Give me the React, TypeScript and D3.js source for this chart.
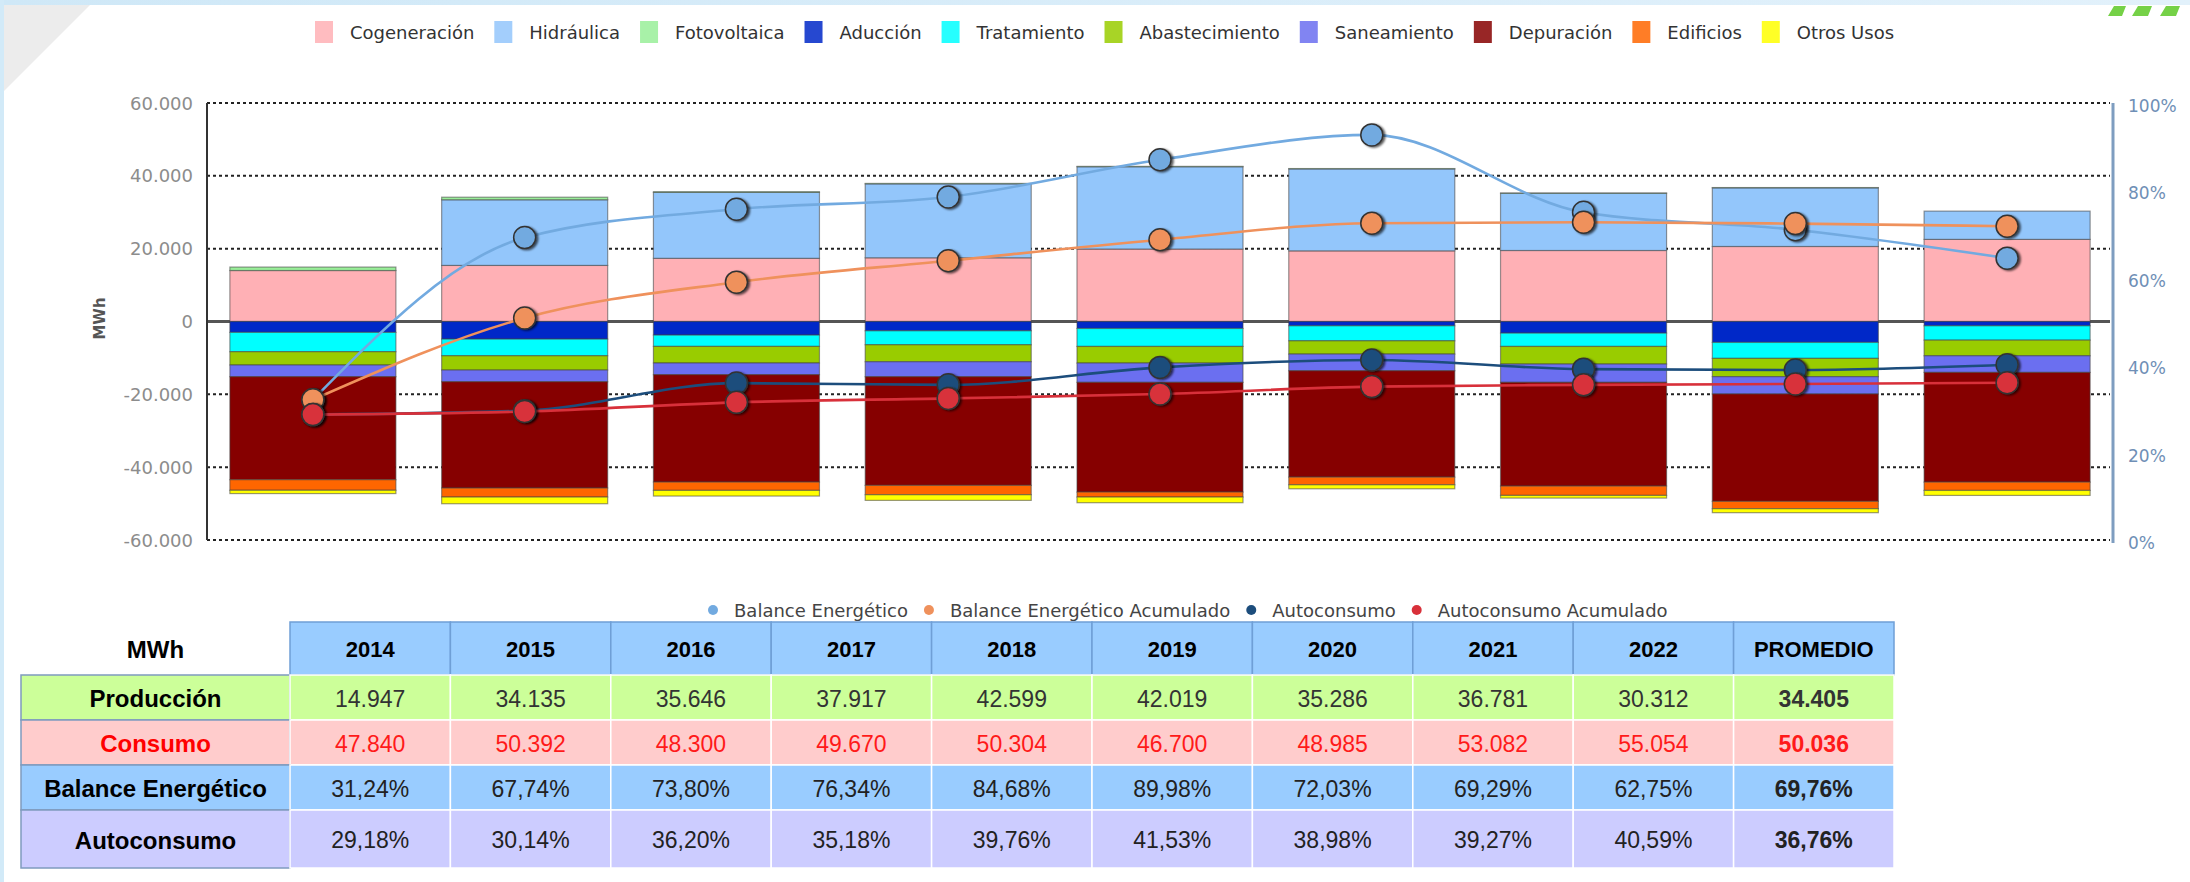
import React from 'react';
import * as d3 from 'd3';

// ---------- DATA ----------
const years = ['2014', '2015', '2016', '2017', '2018', '2019', '2020', '2021', '2022'];

// Production (MWh, positive stack)
const cogeneracion = [14000, 15400, 17350, 17500, 19900, 19400, 19500, 20600, 22550];
const hidraulica = [0, 18035, 18100, 20300, 22600, 22500, 15700, 16100, 7760];
const fotovoltaica = [950, 700, 200, 120, 100, 100, 90, 80, 0];

// Consumption (MWh, negative stack)
const aduccion = [3000, 4840, 3740, 2560, 1920, 1190, 3200, 5750, 1190];
const tratamiento = [5300, 4570, 3100, 3830, 4930, 4110, 3650, 4380, 3930];
const abastecimiento = [3650, 3930, 4560, 4660, 4560, 3650, 4840, 5020, 4290];
const saneamiento = [3200, 3200, 3200, 4110, 5300, 4570, 5020, 4750, 4570];
const depuracion = [28300, 29200, 29500, 29850, 30130, 29220, 28490, 29490, 30130];
const edificios = [2900, 2470, 2280, 2560, 1370, 2100, 2560, 2010, 2280];
const otrosUsos = [900, 1830, 1550, 1550, 1550, 1100, 730, 1100, 1370];

// Lines (%, right axis)
const balanceEnergetico = [32.1, 69.2, 75.7, 78.5, 87.0, 92.7, 75.0, 71.0, 64.5];
const balanceAcumulado = [32.1, 50.8, 59.0, 63.9, 68.7, 72.5, 72.7, 72.4, 71.8];
const autoconsumo = [28.7, 29.6, 35.9, 35.5, 39.5, 41.2, 39.1, 38.9, 40.1];
const autoconsumoAcumulado = [28.7, 29.4, 31.5, 32.4, 33.4, 35.1, 35.5, 35.7, 36.0];

const leftTicks = [-60000, -40000, -20000, 0, 20000, 40000, 60000];
const rightTicks = [0, 20, 40, 60, 80, 100];

// Table
const tableHeaders = ['2014', '2015', '2016', '2017', '2018', '2019', '2020', '2021', '2022', 'PROMEDIO'];
const tProduccion = [14947, 34135, 35646, 37917, 42599, 42019, 35286, 36781, 30312, 34405];
const tConsumo = [47840, 50392, 48300, 49670, 50304, 46700, 48985, 53082, 55054, 50036];
const tBalance = [31.24, 67.74, 73.80, 76.34, 84.68, 89.98, 72.03, 69.29, 62.75, 69.76];
const tAutoconsumo = [29.18, 30.14, 36.20, 35.18, 39.76, 41.53, 38.98, 39.27, 40.59, 36.76];

// ---------- STYLE ----------
const posKeys = ['Cogeneración', 'Hidráulica', 'Fotovoltaica'];
const negKeys = ['Aducción', 'Tratamiento', 'Abastecimiento', 'Saneamiento', 'Depuración', 'Edificios', 'Otros Usos'];
const barColors: Record<string, string> = {
  'Cogeneración': '#ffb0b5',
  'Hidráulica': '#93c6fb',
  'Fotovoltaica': '#99ee99',
  'Aducción': '#0028c8',
  'Tratamiento': '#00ffff',
  'Abastecimiento': '#99cc00',
  'Saneamiento': '#6b6ff0',
  'Depuración': '#860000',
  'Edificios': '#ff6600',
  'Otros Usos': '#ffff00',
};
const lineSeries = [
  { name: 'Balance Energético', values: balanceEnergetico, color: '#72aae0' },
  { name: 'Balance Energético Acumulado', values: balanceAcumulado, color: '#ef915c' },
  { name: 'Autoconsumo', values: autoconsumo, color: '#1c4d7c' },
  { name: 'Autoconsumo Acumulado', values: autoconsumoAcumulado, color: '#d8303a' },
];

const W = 2190;
const H = 882;
const P = { left: 207, right: 2113, top: 103, bottom: 540 };

const loc = d3.formatLocale({ decimal: ',', thousands: '.', grouping: [3], currency: ['', ''], minus: '-' });
const fmtInt = loc.format(',d');
const fmtPct = (v: number) => loc.format(',.2f')(v) + '%';

function measure(text: string, font: string): number {
  const c = document.createElement('canvas').getContext('2d');
  if (!c) return text.length * 9;
  c.font = font;
  return c.measureText(text).width;
}

export default function App() {
  const x = d3.scaleBand<string>().domain(years).range([P.left, P.right]).paddingInner(0.216).paddingOuter(0.108);
  const y = d3.scaleLinear().domain([-60000, 60000]).range([P.bottom, P.top]);
  const yP = d3.scaleLinear().domain([0, 100]).range([P.bottom, P.top]);
  const cx = (i: number) => (x(years[i]) as number) + x.bandwidth() / 2;

  const allKeys = [...posKeys, ...negKeys];
  const posData = [cogeneracion, hidraulica, fotovoltaica];
  const negData = [aduccion, tratamiento, abastecimiento, saneamiento, depuracion, edificios, otrosUsos];
  const rows = years.map((yr, i) => {
    const r: Record<string, number> = {};
    posKeys.forEach((k, j) => (r[k] = posData[j][i]));
    negKeys.forEach((k, j) => (r[k] = -negData[j][i]));
    return r;
  });
  const stacked = d3.stack<Record<string, number>>().keys(allKeys).offset(d3.stackOffsetDiverging)(rows);

  const line = d3
    .line<number>()
    .x((_, i) => cx(i))
    .y((d) => yP(d))
    .curve(d3.curveMonotoneX);

  // top legend layout
  const legFont = '18px "DejaVu Sans"';
  let lx = 315;
  const topLegend = allKeys.map((k) => {
    const w = measure(k, legFont);
    const item = { k, x: lx };
    lx += 35 + w + 20;
    return item;
  });

  // bottom legend layout
  const bFont = '18px "DejaVu Sans"';
  let bx = 713;
  const botLegend = lineSeries.map((s) => {
    const w = measure(s.name, bFont);
    const item = { ...s, x: bx };
    bx += 21 + w + 21;
    return item;
  });

  // table layout
  const tLeft = 21;
  const tLabelRight = 290;
  const tRight = 1894;
  const colX = d3.scaleBand<number>().domain(d3.range(tableHeaders.length)).range([tLabelRight, tRight]);
  const rowEdges = [622, 675, 720, 765, 810, 868];
  const tableRows = [
    { label: 'Producción', values: tProduccion.map(fmtInt), bg: '#ccff99', color: '#333', labelColor: '#000' },
    { label: 'Consumo', values: tConsumo.map(fmtInt), bg: '#ffcccc', color: '#ff1a1a', labelColor: '#ff0000' },
    { label: 'Balance Energético', values: tBalance.map(fmtPct), bg: '#99ccff', color: '#222', labelColor: '#000' },
    { label: 'Autoconsumo', values: tAutoconsumo.map(fmtPct), bg: '#ccccff', color: '#222', labelColor: '#000' },
  ];

  return (
    <svg
      width={W}
      height={H}
      style={{ position: 'absolute', left: 0, top: 0, display: 'block', background: '#fff' }}
      fontFamily='"DejaVu Sans", sans-serif'
    >
      <defs>
        <filter id="mshadow" x="-50%" y="-50%" width="200%" height="200%">
          <feDropShadow dx="2" dy="1" stdDeviation="1" floodColor="#000" floodOpacity="0.65" />
        </filter>
        <linearGradient id="frame" x1="0" x2="1" y1="0" y2="0">
          <stop offset="0" stopColor="#cfe8f7" />
          <stop offset="1" stopColor="#e2f1fb" />
        </linearGradient>
      </defs>
      <rect x={0} y={0} width={W} height={H} fill="#fff" />
      {/* page frame */}
      <polygon points="3,5 90,5 3,92" fill="#ececec" />
      {/* fragment of a green logo at the top-right corner */}
      <path d="M2108,16 L2114,6 L2126,6 L2122,16 Z M2132,16 L2138,6 L2152,6 L2148,16 Z M2160,16 L2166,6 L2180,6 L2176,16 Z" fill="#66cc33" opacity={0.9} />
      <rect x={0} y={0} width={W} height={5} fill="url(#frame)" />
      <rect x={0} y={0} width={4} height={H} fill="#d2eaf8" />

      {/* top legend */}
      <g>
        {topLegend.map((it) => (
          <g key={it.k}>
            <rect x={it.x} y={21} width={18} height={22} fill={barColors[it.k]} opacity={0.85} />
            <text x={it.x + 35} y={32} dominantBaseline="central" fontSize={18} fill="#333">
              {it.k}
            </text>
          </g>
        ))}
      </g>

      {/* gridlines */}
      {leftTicks
        .filter((t) => t !== 0)
        .map((t) => (
          <line key={t} x1={P.left} x2={P.right - 3} y1={y(t)} y2={y(t)} stroke="#222" strokeWidth={2} strokeDasharray="3,3" />
        ))}
      <line x1={P.left} x2={P.right - 3} y1={y(0)} y2={y(0)} stroke="#555" strokeWidth={3} />

      {/* bars */}
      {stacked.map((s) => (
        <g key={s.key}>
          {s.map((d, i) =>
            d[1] - d[0] === 0 ? null : (
              <rect
                key={i}
                x={x(years[i])}
                width={x.bandwidth()}
                y={y(Math.max(d[0], d[1]))}
                height={Math.abs(y(d[0]) - y(d[1]))}
                fill={barColors[s.key]}
                stroke="#444"
                strokeOpacity={0.55}
                strokeWidth={1.2}
              />
            )
          )}
        </g>
      ))}

      {/* axes */}
      <line x1={P.left} x2={P.left} y1={P.top} y2={P.bottom} stroke="#333" strokeWidth={2} />
      <line x1={P.right} x2={P.right} y1={P.top} y2={P.bottom + 3} stroke="#7e9dc0" strokeWidth={3} />
      {leftTicks.map((t) => (
        <text key={t} x={193} y={y(t)} textAnchor="end" dominantBaseline="central" fontSize={18} fill="#8c8c8c">
          {fmtInt(t)}
        </text>
      ))}
      {rightTicks.map((t) => (
        <text key={t} x={2128} y={yP(t) + 3} dominantBaseline="central" fontSize={17} fill="#6f8fb6">
          {t + '%'}
        </text>
      ))}
      <text
        transform={`translate(100,${y(0) - 3}) rotate(-90)`}
        textAnchor="middle"
        dominantBaseline="central"
        fontSize={15}
        fontWeight="bold"
        fill="#555"
      >
        MWh
      </text>

      {/* lines */}
      {lineSeries.map((s) => (
        <g key={s.name}>
          <path d={line(s.values) || ''} fill="none" stroke={s.color} strokeWidth={2.6} />
          {s.values.map((v, i) => (
            <circle key={i} cx={cx(i)} cy={yP(v)} r={11} fill={s.color} stroke="#333" strokeWidth={1.5} filter="url(#mshadow)" />
          ))}
        </g>
      ))}

      {/* bottom legend */}
      {botLegend.map((it) => (
        <g key={it.name}>
          <circle cx={it.x} cy={610} r={5} fill={it.color} />
          <text x={it.x + 21} y={610} dominantBaseline="central" fontSize={18} fill="#444">
            {it.name}
          </text>
        </g>
      ))}

      {/* table */}
      <g fontFamily='"Liberation Sans", Arial, sans-serif'>
        <text x={(tLeft + tLabelRight) / 2} y={(rowEdges[0] + rowEdges[1]) / 2 + 1} textAnchor="middle" dominantBaseline="central" fontSize={24} fontWeight="bold" fill="#000">
          MWh
        </text>
        {tableHeaders.map((h, i) => (
          <g key={h}>
            <rect x={colX(i)} y={rowEdges[0]} width={colX.bandwidth()} height={rowEdges[1] - rowEdges[0]} fill="#99ccff" stroke="#6f9fd6" strokeWidth={1.5} />
            <text x={(colX(i) as number) + colX.bandwidth() / 2} y={(rowEdges[0] + rowEdges[1]) / 2 + 1} textAnchor="middle" dominantBaseline="central" fontSize={22} fontWeight="bold" fill="#000">
              {h}
            </text>
          </g>
        ))}
        {tableRows.map((r, ri) => {
          const y0 = rowEdges[ri + 1];
          const y1 = rowEdges[ri + 2];
          const ym = (y0 + y1) / 2 + 1;
          return (
            <g key={r.label}>
              <rect x={tLeft} y={y0} width={tLabelRight - tLeft} height={y1 - y0} fill={r.bg} stroke="#7f9bbf" strokeWidth={1.5} />
              <text x={(tLeft + tLabelRight) / 2} y={ym} textAnchor="middle" dominantBaseline="central" fontSize={24} fontWeight="bold" fill={r.labelColor}>
                {r.label}
              </text>
              {r.values.map((v, i) => (
                <g key={i}>
                  <rect x={colX(i)} y={y0} width={colX.bandwidth()} height={y1 - y0} fill={r.bg} stroke="#fff" strokeWidth={1.5} />
                  <text
                    x={(colX(i) as number) + colX.bandwidth() / 2}
                    y={ym}
                    textAnchor="middle"
                    dominantBaseline="central"
                    fontSize={23}
                    fontWeight={i === tableHeaders.length - 1 ? 'bold' : 'normal'}
                    fill={r.color}
                  >
                    {v}
                  </text>
                </g>
              ))}
            </g>
          );
        })}
      </g>
    </svg>
  );
}
